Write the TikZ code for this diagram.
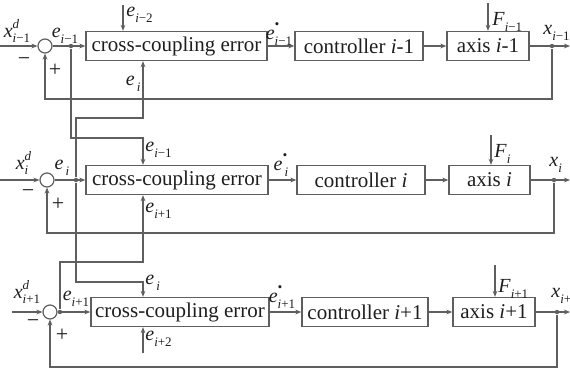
\documentclass[tikz,border=0pt]{standalone}
\usepackage{fontspec}
\setmainfont{Liberation Serif}
\usetikzlibrary{arrows.meta}
\definecolor{lc}{RGB}{95,95,95}
\definecolor{tc}{RGB}{30,30,30}
\newcommand\symb[3]{\textit{#1}\makebox[0pt][l]{\raisebox{1.0ex}{\fontsize{6.5}{7}\selectfont\textit{#2}}}\raisebox{-0.6ex}{\fontsize{6.5}{7}\selectfont #3}}
\newcommand\ii{\textit{i}}
\begin{document}
\begin{tikzpicture}[x=0.5pt,y=-0.5pt,
  ln/.style={draw=lc, line width=0.6pt},
  arr/.style={ln, -{Stealth[length=3pt,width=2.4pt]}},
  blk/.style={draw=lc, line width=0.7pt, minimum height=14.5pt, inner sep=0pt, text=tc, font=\fontsize{10.5}{12}\selectfont},
  sumn/.style={circle, draw=lc, line width=0.6pt, minimum size=7pt, inner sep=0pt},
  dotn/.style={circle, fill=lc, minimum size=2.2pt, inner sep=0pt},
  lab/.style={inner sep=0pt, text=tc, font=\fontsize{10}{12}\selectfont},
  sgn/.style={inner sep=0pt, text=tc, font=\fontsize{11}{12}\selectfont}]
\useasboundingbox (0,0) rectangle (570,370);

% ---------- row 1 ----------
\node[sumn] (s1) at (45,46) {};
\node[blk, minimum width=90.5pt] (cc1) at (176.5,46) {cross-coupling error};
\node[blk, minimum width=64pt] (ct1) at (359,46) {controller \ii-1};
\node[blk, minimum width=41pt] (ax1) at (488,46) {axis \ii-1};
\node[dotn] (j1) at (71,46) {};
\node[dotn] (o1) at (552,46) {};
\coordinate (in1) at (0,46);
\coordinate (end1) at (570,46);
\coordinate (fb1) at (45,99);
\coordinate (t1) at (123,5);
\coordinate (f1) at (488,3);

% ---------- row 2 ----------
\node[sumn] (s2) at (47,180) {};
\node[blk, minimum width=91pt] (cc2) at (177,180) {cross-coupling error};
\node[blk, minimum width=64pt] (ct2) at (361,180) {controller \ii};
\node[blk, minimum width=40.5pt] (ax2) at (489.5,180) {axis \ii};
\node[dotn] (j2) at (76,180) {};
\node[dotn] (o2) at (554,180) {};
\coordinate (in2) at (0,180);
\coordinate (end2) at (570,180);
\coordinate (fb2) at (47,233);
\coordinate (f2) at (491,135);

% ---------- row 3 ----------
\node[sumn] (s3) at (50,312) {};
\node[blk, minimum width=89pt] (cc3) at (180,312) {cross-coupling error};
\node[blk, minimum width=63pt] (ct3) at (365,312) {controller \ii+1};
\node[blk, minimum width=41pt] (ax3) at (494,312) {axis \ii+1};
\node[dotn] (j3) at (60,312) {};
\node[dotn] (o3) at (557,312) {};
\coordinate (in3) at (12,312);
\coordinate (end3) at (570,312);
\coordinate (fb3) at (50,367);
\coordinate (f3) at (495,265);
\coordinate (b3) at (143,353);

% routing coordinates
\coordinate (r1) at (71,138);  \coordinate (r1b) at (143,138);
\coordinate (r2) at (76,118);  \coordinate (r2b) at (143,118);
\coordinate (r3) at (76,282);  \coordinate (r3b) at (143,282);
\coordinate (r4) at (60,262);  \coordinate (r4b) at (143,262);

% ---------- connectors ----------
\foreach \k in {1,2,3}{
  \draw[arr] (in\k) -- (s\k.west);
  \draw[arr] (s\k.east) -- (cc\k.west);
  \draw[arr] (cc\k) -- (ct\k);
  \draw[arr] (ct\k) -- (ax\k);
  \draw[arr] (ax\k) -- (end\k);
  \draw[arr] (o\k) |- (fb\k) -- (s\k.south);
  \draw[arr] (f\k) -- (f\k |- ax\k.north);
}
\draw[arr] (t1) -- (t1 |- cc1.north);
\draw[arr] (j1) -- (r1) -- (r1b) -- (r1b |- cc2.north);
\draw[arr] (j2) -- (r2) -- (r2b) -- (r2b |- cc1.south);
\draw[arr] (j2) -- (r3) -- (r3b) -- (r3b |- cc3.north);
\draw[arr] (j3) -- (r4) -- (r4b) -- (r4b |- cc2.south);
\draw[arr] (b3) -- (b3 |- cc3.south);

% ---------- labels row 1 ----------
\node[lab] (lx1) at (17,31) {\symb{x}{d}{\ii−1}};
\node[sgn] (m1) at (24,62) {−};
\node[sgn] (p1) at (55,70) {+};
\node[lab] (le1) at (65,36) {\symb{e}{}{\ii−1}};
\node[lab, anchor=west] (lt1) at (126,15) {\symb{e}{}{\ii−2}};
\node[lab, anchor=east] (lb1) at (141,84) {\symb{e}{}{\,\ii}};
\node[lab] (ls1) at (279,34) {\symb{e}{\raisebox{0.4ex}{•}}{\ii−1}};
\node[lab, anchor=west] (lf1) at (492,22) {\symb{F}{}{\ii−1}};
\node[lab, anchor=west] (lo1) at (543,33) {\symb{x}{}{\ii−1}};

% ---------- labels row 2 ----------
\node[lab] (lx2) at (22,163) {\symb{x}{d}{\ii}};
\node[sgn] (m2) at (28,194) {−};
\node[sgn] (p2) at (58,204) {+};
\node[lab] (le2) at (62,168) {\symb{e}{}{\,\ii}};
\node[lab, anchor=west] (lt2) at (145,150) {\symb{e}{}{\ii−1}};
\node[lab, anchor=west] (lb2) at (145,211) {\symb{e}{}{\ii+1}};
\node[lab] (ls2) at (281,165) {\symb{e}{\raisebox{0.4ex}{•}}{\,\ii}};
\node[lab, anchor=west] (lf2) at (494,154) {\symb{F}{}{\ii}};
\node[lab, anchor=west] (lo2) at (549,165) {\symb{x}{}{\ii}};

% ---------- labels row 3 ----------
\node[lab] (lx3) at (27,292) {\symb{x}{d}{\ii+1}};
\node[sgn] (m3) at (33,324) {−};
\node[sgn] (p3) at (62,335) {+};
\node[lab] (le3) at (76,299) {\symb{e}{}{\ii+1}};
\node[lab, anchor=west] (lt3) at (145,283) {\symb{e}{}{\,\ii}};
\node[lab, anchor=west] (lb3) at (145,339) {\symb{e}{}{\ii+2}};
\node[lab] (ls3) at (282,297) {\symb{e}{\raisebox{0.4ex}{•}}{\ii+1}};
\node[lab, anchor=west] (lf3) at (498,289) {\symb{F}{}{\ii+1}};
\node[lab, anchor=west] (lo3) at (551,296) {\symb{x}{}{\ii+1}};
\end{tikzpicture}
\end{document}
